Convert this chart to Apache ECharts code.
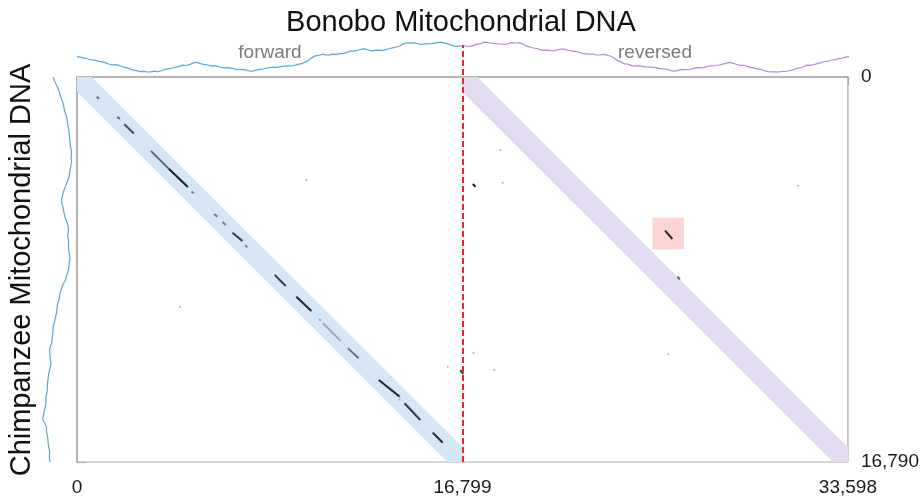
<!DOCTYPE html>
<html><head><meta charset="utf-8">
<script src="https://cdn.jsdelivr.net/npm/echarts@6/dist/echarts.min.js"></script>
<style>html,body{margin:0;padding:0;background:#fff}#c{width:922px;height:500px}</style>
</head><body><div id="c"></div>
<script>
// ---- data (base pairs) ----
const bonoboLength = 16799;
const chimpLength = 16790;
const xTicks = [0, 16799, 33598];
const yTicks = [0, 16790];

// GC-profile style traces (arbitrary units, larger = further from the plot)
const bonoboForwardProfile = [17.3,16.9,15.8,15.3,14.2,13.9,12.9,12.4,11.4,10.0,9.2,9.4,8.7,7.2,6.3,5.3,3.9,3.4,2.4,2.6,2.0,2.1,2.8,2.2,3.3,4.5,5.2,5.7,6.8,7.4,8.9,8.5,9.3,10.9,11.8,10.6,9.7,9.3,8.2,8.4,7.8,6.7,6.2,6.3,5.8,4.8,4.3,4.6,4.1,3.2,2.8,3.9,4.7,5.0,5.9,6.5,6.8,6.6,7.3,7.9,8.2,8.0,8.6,9.7,10.3,11.9,13.8,16.4,18.2,18.7,19.8,19.0,19.1,19.8,19.7,20.4,20.5,21.9,22.8,22.9,23.7,24.8,25.2,24.0,23.1,23.7,23.8,23.5,24.3,25.5,26.2,27.0,28.3,30.1,31.2,30.9,31.4,30.3,29.5,30.1,30.2,30.3,30.9,31.6,31.8,30.6,29.8,28.4,27.5,28.1,28.0];
const bonoboReversedProfile = [28.2,28.0,27.4,28.6,29.9,30.4,31.9,31.5,30.8,30.5,30.1,30.0,29.6,30.5,31.3,31.0,31.1,30.2,28.1,27.2,26.0,25.7,24.1,23.6,23.9,23.4,23.0,24.2,25.0,24.6,23.5,23.1,22.6,21.8,20.7,20.2,19.8,19.9,19.0,19.2,19.6,18.9,18.0,16.2,13.6,12.1,10.1,9.9,8.4,7.8,8.3,7.7,7.1,6.9,6.6,6.3,5.7,5.2,4.9,3.7,2.9,3.4,4.3,4.4,4.5,4.9,5.9,6.4,6.0,6.8,7.9,8.2,8.5,9.0,9.9,10.8,11.6,10.7,9.5,8.7,8.7,7.6,6.6,5.9,5.1,4.3,3.2,2.4,2.1,2.2,2.0,2.7,2.5,3.5,4.1,5.5,6.1,7.0,8.9,8.6,9.3,10.3,11.3,12.5,12.8,14.0,14.4,15.4,15.9,16.8,17.4];
const chimpProfile = [20.7,19.6,18.0,16.4,15.0,14.1,13.0,11.6,10.5,9.9,9.0,7.8,7.0,6.6,6.0,5.2,5.0,4.6,4.0,3.9,3.5,2.7,2.5,2.9,2.5,2.9,3.5,4.3,4.5,5.6,7.0,8.1,9.5,10.8,11.5,12.4,12.3,11.2,10.5,9.9,9.0,7.5,6.5,5.8,5.5,6.3,6.0,5.4,5.5,5.6,5.0,4.3,4.0,4.8,5.0,5.5,6.5,7.7,8.5,10.6,12.0,13.2,14.0,14.5,15.5,16.5,17.0,17.2,18.0,18.9,19.5,20.6,21.0,21.1,21.5,21.9,22.3,23.6,24.5,24.1,24.0,23.4,23.0,23.9,24.5,25.4,25.7,26.4,26.5,26.6,27.0,27.8,28.0,28.1,28.5,29.4,30.0,30.9,31.3,29.1,27.5,27.6,27.0,26.3,26.0,25.8,25.0,24.4,24.5,24.6,24.0];

// alignment hits: [bonoboStart, chimpStart, bonoboEnd, chimpEnd, strength]
const forwardHits = [
  [860,860,960,950,0.6],[1750,1740,1870,1830,0.6],[2060,2060,2480,2460,0.75],
  [3220,3230,4000,4000,0.6],[4000,4000,4830,4800,1.0],[4990,5000,5090,5070,0.5],
  [5975,5980,6120,6090,0.5],[6340,6320,6485,6455,0.5],[6780,6790,7210,7150,0.85],
  [7325,7340,7430,7430,0.45],[8620,8635,9095,9115,0.8],[9560,9580,10215,10205,0.95],
  [10545,10565,10620,10620,0.35],[10720,10740,11500,11520,0.3],[11810,11835,12275,12270,0.6],
  [13155,13215,14060,13940,0.95],[14275,14230,14960,14960,0.85],[15505,15510,15940,15950,0.95]
];
const reversedHits = [
  [17250,4665,17365,4785,1.0],[25630,6700,25950,7065,0.95],[26170,8710,26275,8825,0.7],
  [16700,12780,16840,12950,0.9]
];
const strayDots = [[9996,4492],[4483,10017],[16160,12634],[18453,3184],[18553,4610],[17278,12023],[18192,12778],[25771,12093],[31422,4740],[14060,14060]];
const highlightBox = [25080, 6135, 26460, 7515];
// expected diagonals: [bonoboStart, chimpStart, bonoboEnd, chimpEnd]
const diagonalBands = [[0, 0, 16799, 16790], [16799, 0, 33598, 16790]];
const bandColors = ['#d5e6f5', '#e4dbf0'];

const FONT = '"Liberation Sans", Arial, Helvetica, sans-serif';
const fmt = v => Number(v).toLocaleString('en-US');

const chart = echarts.init(document.getElementById('c'), null, {renderer: 'canvas'});

function hitData(list) {
  return list.map(h => ({
    coords: [[h[0], h[1]], [h[2], h[3]]],
    lineStyle: {opacity: h[4]}
  }));
}

function renderBand(params, api) {
  const a = api.coord([api.value(0), api.value(1)]);
  const b = api.coord([api.value(2), api.value(3)]);
  const dx = b[0] - a[0], dy = b[1] - a[1];
  const len = Math.sqrt(dx * dx + dy * dy);
  const ux = dx / len, uy = dy / len;
  const half = 10.5, ext = 30;
  const nx = -uy * half, ny = ux * half;
  const a2 = [a[0] - ux * ext, a[1] - uy * ext];
  const b2 = [b[0] + ux * ext, b[1] + uy * ext];
  const cs = params.coordSys;
  return {
    type: 'polygon',
    shape: {points: [[a2[0] + nx, a2[1] + ny], [b2[0] + nx, b2[1] + ny], [b2[0] - nx, b2[1] - ny], [a2[0] - nx, a2[1] - ny]]},
    style: {fill: bandColors[params.dataIndex]},
    clipPath: {type: 'rect', shape: {x: Math.min(a[0], b[0]), y: cs.y, width: Math.abs(b[0] - a[0]), height: cs.height}}
  };
}

const option = {
  backgroundColor: '#fff',
  animation: false,
  title: {
    text: 'Bonobo Mitochondrial DNA', left: 'center', top: 3,
    textStyle: {fontSize: 29, fontWeight: 'normal', color: '#111', fontFamily: FONT}
  },
  grid: [
    {left: 77, top: 77, width: 772, height: 385, show: true, borderColor: '#aaa', borderWidth: 1.2, backgroundColor: 'transparent'},
    {left: 77, top: 44, width: 386, height: 30},
    {left: 463, top: 44, width: 386, height: 30},
    {left: 40, top: 77, width: 34, height: 385},
    {left: 77, top: 45, width: 772, height: 417}
  ],
  xAxis: [
    {gridIndex: 0, type: 'value', min: xTicks[0], max: xTicks[2], interval: xTicks[1],
     axisLine: {show: true, lineStyle: {color: '#aaa', width: 1.5}},
     axisTick: {show: true, length: 8, lineStyle: {color: '#aaa', width: 1.2}},
     axisLabel: {show: true, fontSize: 19, color: '#1a1a1a', margin: 16, fontFamily: FONT, formatter: fmt, showMinLabel: true, showMaxLabel: true},
     splitLine: {show: false}},
    {gridIndex: 1, type: 'category', show: false, boundaryGap: false},
    {gridIndex: 2, type: 'category', show: false, boundaryGap: false},
    {gridIndex: 3, type: 'value', show: false, inverse: true, min: 0, max: 34},
    {gridIndex: 4, type: 'value', show: false, min: xTicks[0], max: xTicks[2]}
  ],
  yAxis: [
    {gridIndex: 0, type: 'value', inverse: true, position: 'right', min: yTicks[0], max: yTicks[1], interval: yTicks[1],
     axisLine: {show: true, lineStyle: {color: '#aaa', width: 1.5}},
     axisTick: {show: true, length: 9, lineStyle: {color: '#aaa', width: 1.2}},
     axisLabel: {show: true, fontSize: 19, color: '#1a1a1a', margin: 13, fontFamily: FONT, formatter: fmt, showMinLabel: true, showMaxLabel: true},
     splitLine: {show: false}},
    {gridIndex: 1, type: 'value', show: false, min: 0, max: 30},
    {gridIndex: 2, type: 'value', show: false, min: 0, max: 30},
    {gridIndex: 3, type: 'category', show: false, inverse: true, boundaryGap: false},
    {gridIndex: 4, type: 'value', show: false, min: 0, max: 1}
  ],
  graphic: [
    {type: 'text', x: 270, y: 53, z: 10, style: {text: 'forward', fontSize: 19, fontFamily: FONT, fill: '#7a7a7a', align: 'center', verticalAlign: 'middle', textAlign: 'center', textVerticalAlign: 'middle'}},
    {type: 'text', x: 655, y: 53, z: 10, style: {text: 'reversed', fontSize: 19, fontFamily: FONT, fill: '#7a7a7a', align: 'center', verticalAlign: 'middle', textAlign: 'center', textVerticalAlign: 'middle'}},
    {type: 'text', x: 22, y: 270, rotation: Math.PI / 2, z: 10, style: {text: 'Chimpanzee Mitochondrial DNA', fontSize: 29, fontFamily: FONT, fill: '#111', align: 'center', verticalAlign: 'middle', textAlign: 'center', textVerticalAlign: 'middle'}}
  ],
  series: [
    {type: 'custom', xAxisIndex: 0, yAxisIndex: 0, silent: true, z: 1, clip: true,
     data: diagonalBands, renderItem: renderBand},
    {type: 'scatter', xAxisIndex: 0, yAxisIndex: 0, silent: true, z: 2,
     symbolSize: 2, itemStyle: {color: '#9a9a9a'}, data: strayDots,
     markArea: {silent: true, itemStyle: {color: '#fcd4d4'},
       data: [[{coord: [highlightBox[0], highlightBox[1]]}, {coord: [highlightBox[2], highlightBox[3]]}]]}},
    {type: 'lines', coordinateSystem: 'cartesian2d', xAxisIndex: 0, yAxisIndex: 0, silent: true, z: 3,
     lineStyle: {color: '#1c1c1c', width: 2, curveness: 0}, data: hitData(forwardHits)},
    {type: 'lines', coordinateSystem: 'cartesian2d', xAxisIndex: 0, yAxisIndex: 0, silent: true, z: 3,
     lineStyle: {color: '#1c1c1c', width: 2, curveness: 0}, data: hitData(reversedHits)},
    {type: 'line', xAxisIndex: 4, yAxisIndex: 4, silent: true, symbol: 'none', z: 5,
     data: [[xTicks[1], 0], [xTicks[1], 1]],
     lineStyle: {color: '#e8262b', width: 2, type: [6, 3]}},
    {type: 'line', xAxisIndex: 1, yAxisIndex: 1, silent: true, symbol: 'none', clip: false, z: 4,
     data: bonoboForwardProfile, lineStyle: {color: '#5aa6da', width: 1.2}},
    {type: 'line', xAxisIndex: 2, yAxisIndex: 2, silent: true, symbol: 'none', clip: false, z: 4,
     data: bonoboReversedProfile, lineStyle: {color: '#b18cd9', width: 1.2}},
    {type: 'line', xAxisIndex: 3, yAxisIndex: 3, silent: true, symbol: 'none', clip: false, z: 4,
     data: chimpProfile, lineStyle: {color: '#5aa6da', width: 1.2}}
  ]
};
chart.setOption(option);
</script>
</body></html>
